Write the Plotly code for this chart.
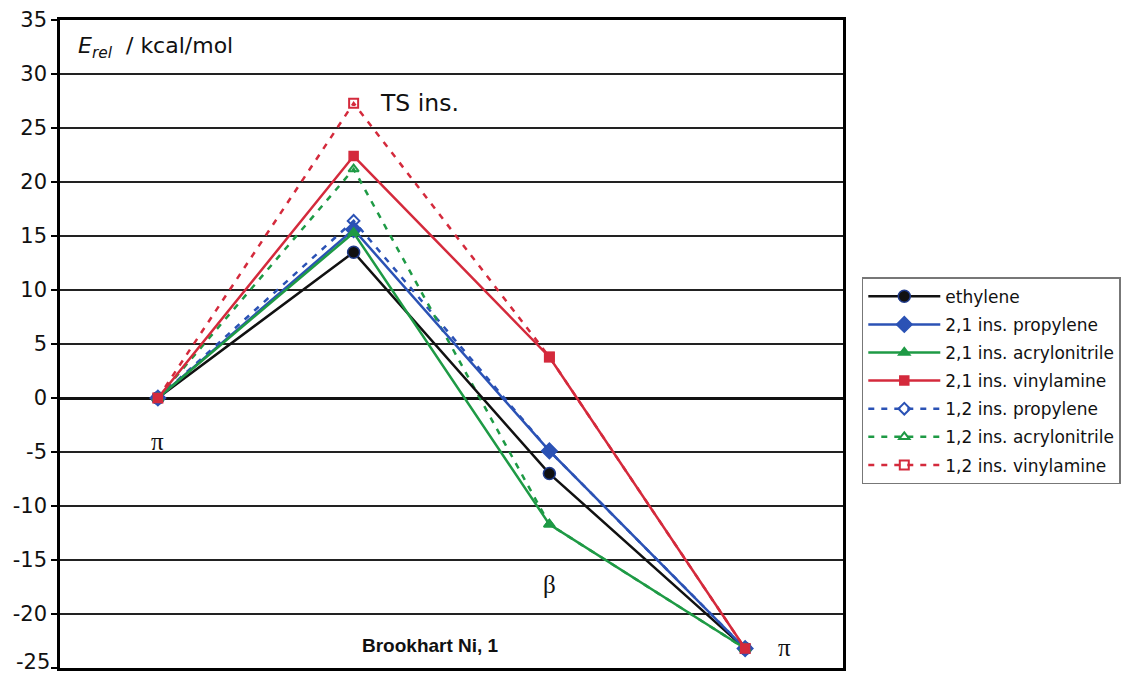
import plotly.graph_objects as go

stages = ["π (start)", "TS ins.", "β", "π (end)"]

ethylene = [0, 13.5, -7.0, -23.2]
prop_21 = [0, 15.6, -4.9, -23.2]
acryl_21 = [0, 15.3, -11.7, -23.2]
vinyl_21 = [0, 22.4, 3.8, -23.2]
prop_12 = [0, 16.4, -4.9, -23.2]
acryl_12 = [0, 21.2, -11.7, -23.2]
vinyl_12 = [0, 27.3, 3.8, -23.2]

y_ticks = list(range(-25, 36, 5))

BLACK = "#111111"
BLUE = "#2b52b5"
GREEN = "#1e9a45"
RED = "#d42a3c"

SANS = "DejaVu Sans, Arial, sans-serif"
SERIF = "Liberation Serif, Times New Roman, serif"

fig = go.Figure()

dashed = [
    ("1,2 ins. propylene", prop_12, BLUE, "diamond-open", 5),
    ("1,2 ins. acrylonitrile", acryl_12, GREEN, "triangle-up-open", 6),
    ("1,2 ins. vinylamine", vinyl_12, RED, "square-open", 7),
]
for name, vals, col, sym, rank in dashed:
    fig.add_trace(go.Scatter(
        x=stages, y=vals, name=name, mode="lines+markers",
        line=dict(color=col, width=2.5, dash="6px,7px"),
        marker=dict(symbol=sym, size=9, color=col, line=dict(width=2, color=col)),
        legendrank=rank, legendgroup=name,
    ))

solid = [
    ("ethylene", ethylene, BLACK, "circle", 1, "#1f3a8a", 12),
    ("2,1 ins. propylene", prop_21, BLUE, "diamond", 2, BLUE, 12),
    ("2,1 ins. acrylonitrile", acryl_21, GREEN, "triangle-up", 3, GREEN, 10),
    ("2,1 ins. vinylamine", vinyl_21, RED, "square", 4, RED, 9),
]
for name, vals, col, sym, rank, edge, size in solid:
    fig.add_trace(go.Scatter(
        x=stages, y=vals, name=name, mode="lines+markers",
        line=dict(color=col, width=2.5),
        marker=dict(symbol=sym, size=size, color=col, line=dict(width=1.5, color=edge)),
        legendrank=rank, legendgroup=name,
    ))

fig.update_layout(
    width=1130, height=677,
    margin=dict(l=60, r=287, t=20, b=9, autoexpand=False),
    plot_bgcolor="white", paper_bgcolor="white",
    font=dict(family=SANS, color="#111111"),
    showlegend=True,
    legend=dict(
        x=1.024, y=0.603, xanchor="left", yanchor="top",
        bordercolor="#777777", borderwidth=1.5,
        font=dict(size=17, family=SANS),
        tracegroupgap=3, itemwidth=72,
        bgcolor="white",
    ),
    xaxis=dict(
        range=[-0.5, 3.5], showticklabels=False, showgrid=False,
        ticks="", showline=True, linecolor="black", linewidth=2.5, mirror=True,
        zeroline=False,
    ),
    yaxis=dict(
        range=[-25, 35], tickvals=y_ticks,
        ticktext=["" if v == -25 else str(v) for v in y_ticks],
        showgrid=True, gridcolor="#222222", gridwidth=1.5,
        zeroline=True, zerolinecolor="#111111", zerolinewidth=2.5,
        ticks="outside", ticklen=6, tickcolor="black", tickwidth=1.5,
        showline=True, linecolor="black", linewidth=2.5, mirror=True,
        tickfont=dict(size=21, family=SANS),
    ),
)

annotations = [
    dict(xref="paper", x=0, y=y_ticks[0], text=str(y_ticks[0]), showarrow=False,
         xanchor="right", yanchor="bottom", xshift=-8, yshift=-8,
         font=dict(size=21, family=SANS)),
    dict(x=-0.42, y=32.5, text="<i>E</i><sub><i>rel</i></sub>  / kcal/mol", showarrow=False,
         xanchor="left", yanchor="middle", font=dict(size=22, family=SANS)),
    dict(x=1.125, y=27.3, text="TS ins.", showarrow=False, xanchor="left", yanchor="middle",
         font=dict(size=23.5, family=SANS)),
    dict(x=0, y=-4.0, text="π", showarrow=False, xanchor="center", yanchor="middle",
         font=dict(size=25, family=SERIF)),
    dict(x=2, y=-17.3, text="β", showarrow=False, xanchor="center", yanchor="middle",
         font=dict(size=25, family=SERIF)),
    dict(x=3.2, y=-23.1, text="π", showarrow=False, xanchor="center", yanchor="middle",
         font=dict(size=25, family=SERIF)),
    dict(x=1.395, y=-22.96, text="<b>Brookhart Ni, 1</b>", showarrow=False, xanchor="center",
         yanchor="middle", font=dict(size=19, family="Liberation Sans, Arial, sans-serif")),
]
fig.update_layout(annotations=annotations)

fig.write_html("out.html", config={"displayModeBar": False},
               post_script="document.body.style.margin='0';document.body.style.overflow='hidden';")
